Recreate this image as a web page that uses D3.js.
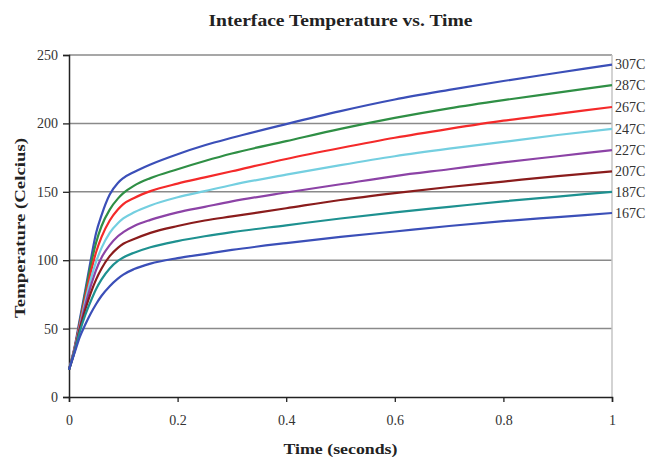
<!doctype html>
<html lang="en">
<head>
<meta charset="utf-8">
<title>Interface Temperature vs. Time</title>
<style>
  body { margin: 0; background: #fff; }
  svg { display: block; font-family: "Liberation Serif", "DejaVu Serif", serif; }
</style>
</head>
<body>
<div id="chart"></div>
<script src="https://d3js.org/d3.v7.min.js"></script>
<script>
// time samples (seconds)
var times = [0, 0.01, 0.02, 0.03, 0.04, 0.05, 0.06, 0.075, 0.09, 0.1, 0.12, 0.15, 0.2, 0.25, 0.3, 0.4, 0.5, 0.6, 0.7, 0.8, 0.9, 1.0];

// interface temperature for each initial temperature
var t307 = [20, 36, 57, 78, 100, 120, 133, 148, 156.5, 160, 164.5, 170, 177.5, 184, 189.5, 199.5, 209, 217.5, 224.5, 231, 237, 243];
var t287 = [20, 35, 55, 76, 96, 113, 125, 137, 145, 149, 154.5, 160, 166.5, 172.5, 178, 187, 196, 204, 211, 217, 222.5, 228];
var t267 = [20, 35, 54, 73, 91, 106, 117, 129, 137, 141, 145.5, 150.5, 156, 160.5, 165, 174, 182, 189.5, 196, 202, 207, 212];
var t247 = [20, 34, 52, 70, 86, 99, 109, 120, 127, 130.5, 135, 140, 146, 150.5, 155, 162.5, 169.5, 176, 181.5, 186.5, 191.5, 196];
var t227 = [20, 34, 51, 67, 81, 93, 102, 111, 117.5, 120.5, 125, 129.5, 135, 139, 143, 149.5, 155.5, 161.5, 166.5, 171.5, 176, 180.5];
var t207 = [20, 33, 50, 64, 76, 86, 94, 103, 109, 112, 115.5, 120, 125, 129, 132, 138, 144, 149, 153.5, 157.5, 161.5, 165];
var t187 = [20, 33, 48, 60, 70, 79, 86, 94, 99.5, 102, 105.5, 109.5, 114, 117.5, 120.5, 125.5, 130.5, 135, 139, 143, 146.5, 150];
var t167 = [20, 32, 44, 53, 61, 68, 74, 81, 86.5, 89.5, 93.5, 97.5, 101.5, 104.5, 107.5, 112.5, 117, 121, 125, 128.5, 131.5, 134.5];

var labels = ["307C", "287C", "267C", "247C", "227C", "207C", "187C", "167C"];
var colors = ["#3b4fb8", "#2f8f45", "#f42a2a", "#74cfe0", "#8c43a6", "#8a1c1c", "#1e9190", "#3b4fb8"];
var seriesVals = [t307, t287, t267, t247, t227, t207, t187, t167];

var yTicks = [0, 50, 100, 150, 200, 250];
var xTicks = [0, 0.2, 0.4, 0.6, 0.8, 1];

var w = 650, h = 457;
var pLeft = 69, pRight = 612, pTop = 55, pBottom = 397;

var svg = d3.select("#chart").append("svg")
  .attr("width", w)
  .attr("height", h);

var x = d3.scaleLinear().domain([0, 1]).range([pLeft, pRight]);
var y = d3.scaleLinear().domain([0, 250]).range([pBottom, pTop]);

// horizontal gridlines
svg.append("g").selectAll("line")
  .data(yTicks.filter(function(d) { return d > 0; }))
  .enter().append("line")
  .attr("x1", pLeft).attr("x2", pRight)
  .attr("y1", function(d) { return y(d); })
  .attr("y2", function(d) { return y(d); })
  .attr("stroke", "#8a8a8a")
  .attr("stroke-width", 1.5);

// right frame
svg.append("line")
  .attr("x1", pRight).attr("x2", pRight)
  .attr("y1", pTop).attr("y2", pBottom)
  .attr("stroke", "#c4c4c4")
  .attr("stroke-width", 1.5);

// axes
var yAxis = svg.append("g")
  .attr("transform", "translate(" + pLeft + ",0)")
  .call(d3.axisLeft(y).tickValues(yTicks).tickSize(6).tickPadding(5).tickFormat(d3.format("d")));
var xAxis = svg.append("g")
  .attr("transform", "translate(0," + pBottom + ")")
  .call(d3.axisBottom(x).tickValues(xTicks).tickSize(5).tickPadding(13).tickFormat(function(d) { return d; }));

[yAxis, xAxis].forEach(function(a) {
  a.select(".domain").attr("stroke", "#222").attr("stroke-width", 1.5);
  a.selectAll(".tick line").attr("stroke", "#222").attr("stroke-width", 1.3);
  a.selectAll("text")
    .attr("font-family", "Liberation Serif, serif")
    .attr("font-size", 14)
    .attr("fill", "#333");
});

// curves
var line = d3.line()
  .x(function(d, i) { return x(times[i]); })
  .y(function(d) { return y(d); })
  .curve(d3.curveMonotoneX);

svg.append("g").selectAll("path")
  .data(seriesVals)
  .enter().append("path")
  .attr("d", function(d) { return line(d); })
  .attr("fill", "none")
  .attr("stroke", function(d, i) { return colors[i]; })
  .attr("stroke-width", 2.2);

// end labels
svg.append("g").selectAll("text")
  .data(seriesVals)
  .enter().append("text")
  .attr("x", pRight + 3)
  .attr("y", function(d) { return y(d[d.length - 1]); })
  .attr("dy", "0.35em")
  .attr("font-size", 14)
  .attr("fill", "#333")
  .text(function(d, i) { return labels[i]; });

// title and axis titles
svg.append("text")
  .attr("x", (pLeft + pRight) / 2)
  .attr("y", 26)
  .attr("text-anchor", "middle")
  .attr("font-weight", "bold")
  .attr("font-size", 17)
  .attr("textLength", 264)
  .attr("lengthAdjust", "spacingAndGlyphs")
  .attr("fill", "#222")
  .text("Interface Temperature vs. Time");

svg.append("text")
  .attr("x", (pLeft + pRight) / 2)
  .attr("y", 454)
  .attr("text-anchor", "middle")
  .attr("font-weight", "bold")
  .attr("font-size", 15)
  .attr("textLength", 114)
  .attr("lengthAdjust", "spacingAndGlyphs")
  .attr("fill", "#222")
  .text("Time (seconds)");

svg.append("text")
  .attr("transform", "translate(25," + ((pTop + pBottom) / 2 + 2) + ") rotate(-90)")
  .attr("text-anchor", "middle")
  .attr("font-weight", "bold")
  .attr("font-size", 15)
  .attr("textLength", 180)
  .attr("lengthAdjust", "spacingAndGlyphs")
  .attr("fill", "#222")
  .text("Temperature (Celcius)");
</script>
</body>
</html>
